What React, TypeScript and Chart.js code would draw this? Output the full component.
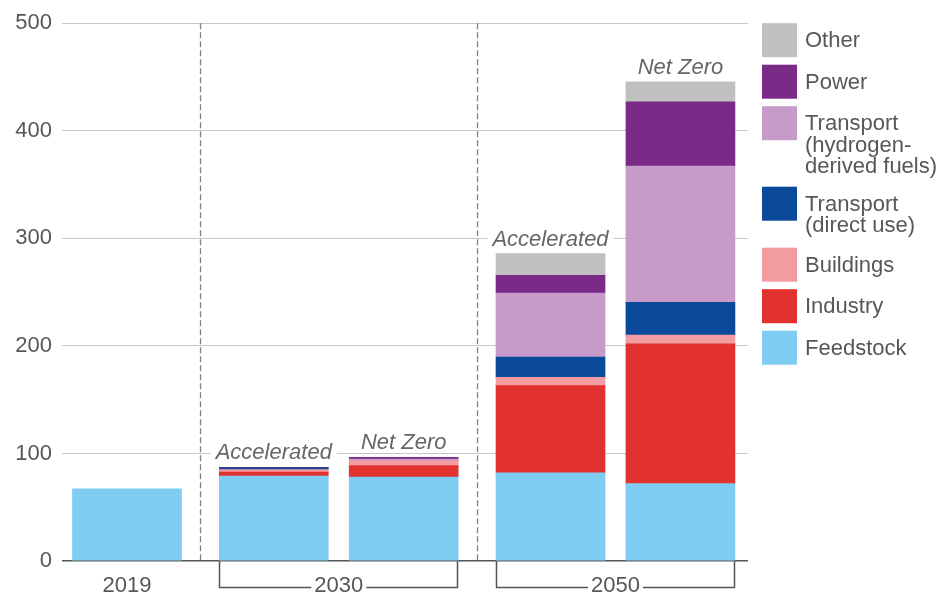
import React, { useEffect, useRef } from "react";
import { Chart, registerables } from "chart.js";

Chart.register(...registerables);

// ---- data ----
const years = ["2019", "2030", "2030", "2050", "2050"];
const scenarios = ["", "Accelerated", "Net Zero", "Accelerated", "Net Zero"];

const feedstock = [67, 79, 78, 82, 72];
const industry = [0, 3.7, 10.8, 81, 130];
const buildings = [0, 2.2, 4.5, 7.7, 8];
const transportDirect = [0, 1.8, 0, 19, 30.5];
const transportHydrogen = [0, 0, 1.5, 59.4, 126.6];
const power = [0, 0.4, 1.5, 16.6, 59.8];
const other = [0, 0, 0, 20, 18.5];

const yTickValues = [0, 100, 200, 300, 400, 500];

const seriesNames = [
  "Feedstock",
  "Industry",
  "Buildings",
  "Transport (direct use)",
  "Transport (hydrogen-derived fuels)",
  "Power",
  "Other",
];
const legendLines = [
  ["Feedstock"],
  ["Industry"],
  ["Buildings"],
  ["Transport", "(direct use)"],
  ["Transport", "(hydrogen-", "derived fuels)"],
  ["Power"],
  ["Other"],
];
const seriesValues = [feedstock, industry, buildings, transportDirect, transportHydrogen, power, other];
const seriesColors = ["#7fcdf3", "#e1322f", "#f29ba0", "#0b4a9b", "#c69ac9", "#7a2a87", "#c0c0c0"];

// layout: extra space between year groups (in bar-slot units)
const GROUP_GAP = 0.13;
const slotPos: number[] = [];
{
  let g = 0;
  years.forEach((y, i) => {
    if (i > 0 && y !== years[i - 1]) g++;
    slotPos.push(i + g * GROUP_GAP);
  });
}

const FONT = "'Liberation Sans', Arial, sans-serif";
const TEXT = "#575757";

const overlayPlugin = {
  id: "overlay",
  beforeDatasetsDraw(chart: any) {
    const { ctx, chartArea } = chart;
    const meta = chart.getDatasetMeta(0);
    ctx.save();
    ctx.strokeStyle = "#808080";
    ctx.lineWidth = 1.3;
    ctx.setLineDash([6, 3]);
    for (let i = 0; i < years.length - 1; i++) {
      if (years[i] !== years[i + 1]) {
        const x = Math.round((meta.data[i].x + meta.data[i + 1].x) / 2) + 0.5;
        ctx.beginPath();
        ctx.moveTo(x, chartArea.top);
        ctx.lineTo(x, chartArea.bottom);
        ctx.stroke();
      }
    }
    ctx.restore();
  },
  afterDatasetsDraw(chart: any) {
    const { ctx, chartArea } = chart;
    const n = chart.data.datasets.length;
    ctx.save();
    // scenario labels above stacks
    ctx.font = `italic 22px ${FONT}`;
    ctx.textAlign = "center";
    ctx.textBaseline = "alphabetic";
    for (let i = 0; i < scenarios.length; i++) {
      if (!scenarios[i]) continue;
      let top = chartArea.bottom;
      for (let d = 0; d < n; d++) {
        const el = chart.getDatasetMeta(d).data[i];
        if (el && seriesValues[d][i] > 0) top = Math.min(top, el.y);
      }
      const x = chart.getDatasetMeta(0).data[i].x;
      const baseY = top - 8;
      const w = ctx.measureText(scenarios[i]).width;
      ctx.fillStyle = "#ffffff";
      ctx.fillRect(x - w / 2 - 5, baseY - 17, w + 10, 19);
      ctx.fillStyle = "#666666";
      ctx.fillText(scenarios[i], x, baseY);
    }

    // x labels and brackets
    const meta = chart.getDatasetMeta(0);
    const bottom = chartArea.bottom;
    const lineY = bottom + 26.5;
    ctx.font = `22px ${FONT}`;
    ctx.textBaseline = "middle";
    ctx.fillStyle = TEXT;
    ctx.strokeStyle = "#555555";
    ctx.lineWidth = 1.5;
    let i = 0;
    while (i < years.length) {
      let j = i;
      while (j + 1 < years.length && years[j + 1] === years[i]) j++;
      const first = meta.data[i];
      const last = meta.data[j];
      const cx = (first.x + last.x) / 2;
      if (j > i) {
        const l = Math.round(first.x - first.width / 2) + 0.5;
        const r = Math.round(last.x + last.width / 2) - 0.5;
        const tw = ctx.measureText(years[i]).width;
        ctx.beginPath();
        ctx.moveTo(l, bottom);
        ctx.lineTo(l, lineY);
        ctx.lineTo(cx - tw / 2 - 3, lineY);
        ctx.moveTo(cx + tw / 2 + 3, lineY);
        ctx.lineTo(r, lineY);
        ctx.lineTo(r, bottom);
        ctx.stroke();
      }
      ctx.fillText(years[i], cx, lineY - 2);
      i = j + 1;
    }

    // legend
    const lx = chartArea.right + 14;
    let ty = chartArea.top;
    ctx.textAlign = "left";
    for (let d = n - 1; d >= 0; d--) {
      const lines = legendLines[d];
      ctx.fillStyle = seriesColors[d];
      ctx.fillRect(lx, ty, 35, 34);
      ctx.fillStyle = TEXT;
      lines.forEach((t, k) => ctx.fillText(t, lx + 43, ty + 18 + k * 21.5));
      ty += 41.5 + (lines.length - 1) * 19.5;
    }
    ctx.restore();
  },
};

export default function App() {
  const ref = useRef<HTMLCanvasElement | null>(null);
  useEffect(() => {
    if (!ref.current) return;
    const chart = new Chart(ref.current, {
      type: "bar",
      data: {
        datasets: seriesNames.map((name, d) => ({
          label: name,
          data: seriesValues[d].map((v, i) => ({ x: slotPos[i], y: v > 0 ? v : null })),
          backgroundColor: seriesColors[d],
          borderWidth: 0,
          barThickness: 109,
        })),
      },
      options: {
        responsive: false,
        animation: false,
        layout: { padding: { top: 20, right: 199, bottom: 35, left: 0 } },
        plugins: { legend: { display: false }, tooltip: { enabled: false } },
        scales: {
          x: {
            type: "linear",
            stacked: true,
            display: false,
            offset: false,
            min: slotPos[0] - 0.5,
            max: slotPos[slotPos.length - 1] + 0.52,
          },
          y: {
            stacked: true,
            min: 0,
            max: 500,
            border: { display: false },
            afterFit(axis: any) {
              axis.width = 62;
            },
            afterBuildTicks(axis: any) {
              axis.ticks = yTickValues.map((v) => ({ value: v }));
            },
            grid: {
              drawTicks: false,
              color: (c: any) => (c.tick && c.tick.value === 0 ? "#555555" : "#c8c8c8"),
              lineWidth: (c: any) => (c.tick && c.tick.value === 0 ? 1.5 : 1),
            },
            ticks: {
              padding: 10,
              color: TEXT,
              font: { family: FONT, size: 22 },
            },
          },
        },
      },
      plugins: [overlayPlugin],
    });
    return () => chart.destroy();
  }, []);
  return (
    <div style={{ position: "absolute", left: 0, top: 0, width: 947, height: 596, background: "#fff" }}>
      <canvas ref={ref} width={947} height={596} style={{ display: "block" }} />
    </div>
  );
}
